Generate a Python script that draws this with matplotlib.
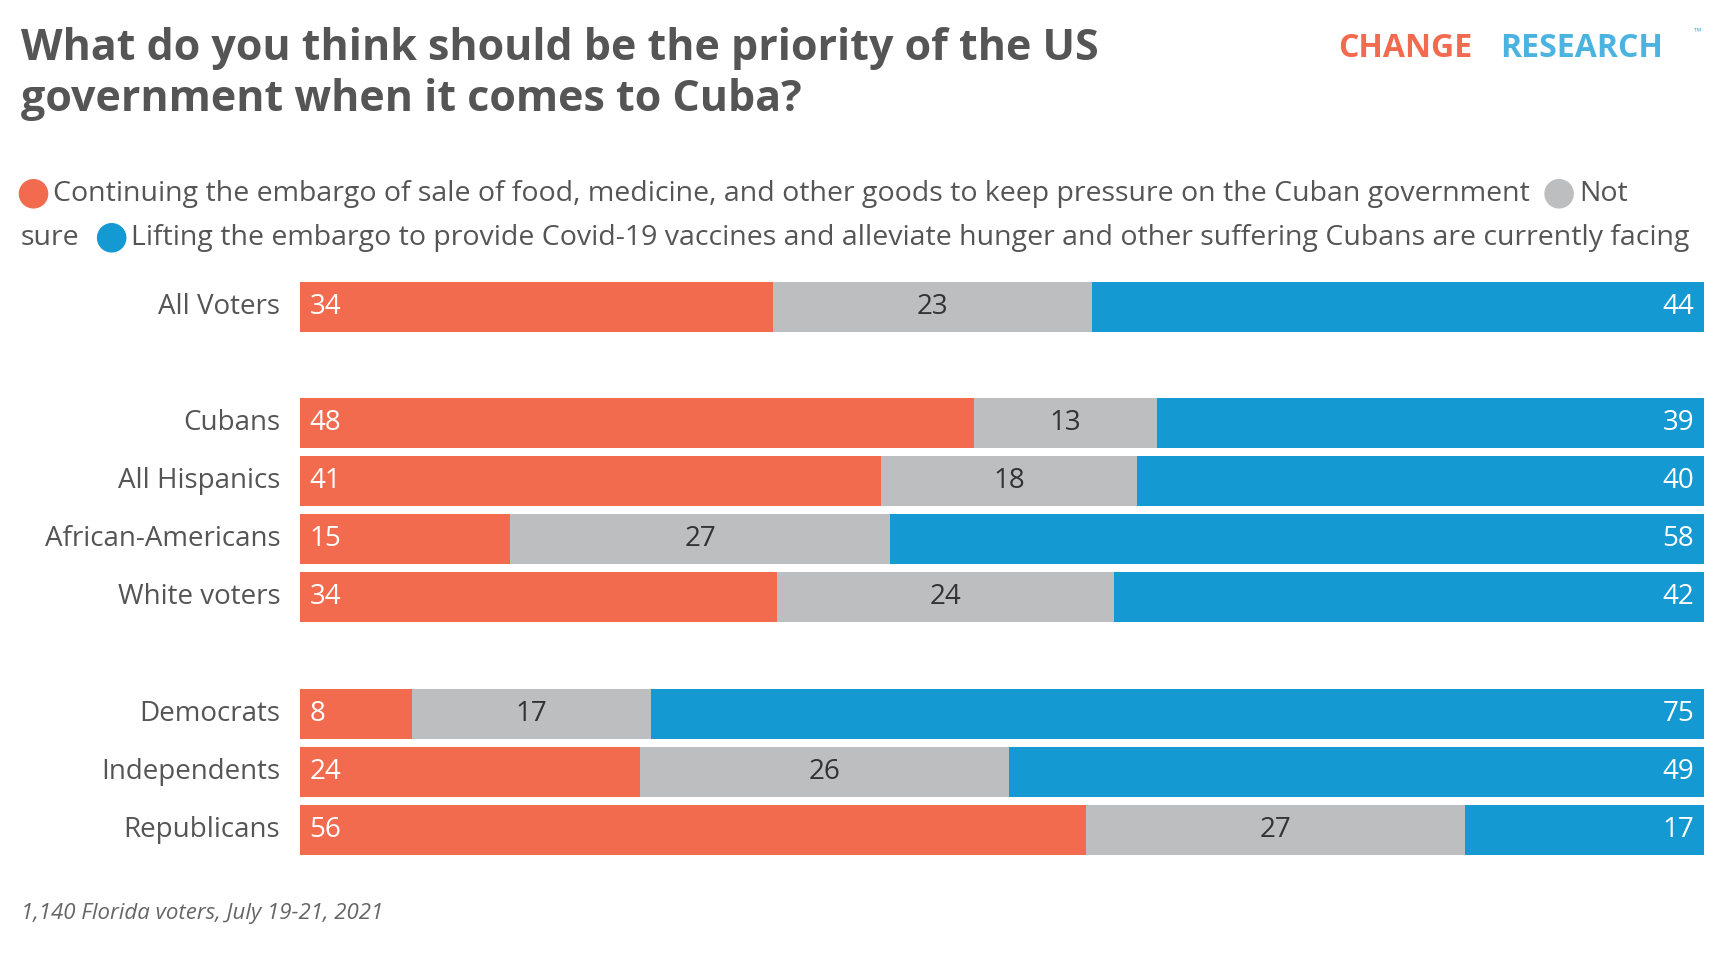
import matplotlib.pyplot as plt
from matplotlib.patches import Ellipse

groups = ["All Voters", "Cubans", "All Hispanics", "African-Americans", "White voters",
          "Democrats", "Independents", "Republicans"]
slots = [0, 2, 3, 4, 5, 7, 8, 9]
continuing = [34, 48, 41, 15, 34, 8, 24, 56]
not_sure = [23, 13, 18, 27, 24, 17, 26, 27]
lifting = [44, 39, 40, 58, 42, 75, 49, 17]

c_orange = '#F26B4F'
c_gray = '#BDBEC0'
c_blue = '#1499D3'
txt = '#555555'

plt.rcParams['font.family'] = ['Open Sans', 'DejaVu Sans']

W, H = 1718, 960
fig = plt.figure(figsize=(W / 100, H / 100), dpi=100)
fig.patch.set_facecolor('white')

ax = fig.add_axes([0.1745, 0.105, 0.8175, 0.606])
ax.set_xlim(0, 1)
ax.set_ylim(9.5, -0.5)
ax.axis('off')

fs = 20
for s, a, b, c in zip(slots, continuing, not_sure, lifting):
    tot = a + b + c
    fa, fb, fc = a / tot, b / tot, c / tot
    ax.barh(s, fa, left=0, height=0.86, color=c_orange)
    ax.barh(s, fb, left=fa, height=0.86, color=c_gray)
    ax.barh(s, fc, left=fa + fb, height=0.86, color=c_blue)
    ax.text(0.007, s, str(a), va='center', ha='left', fontsize=fs, color='white')
    ax.text(fa + fb / 2, s, str(b), va='center', ha='center', fontsize=fs, color='#333333')
    ax.text(0.993, s, str(c), va='center', ha='right', fontsize=fs, color='white')

for s, g in zip(slots, groups):
    ax.text(-0.014, s, g, va='center', ha='right', fontsize=fs, color=txt)

fig.text(0.012, 0.972, "What do you think should be the priority of the US\ngovernment when it comes to Cuba?",
         fontsize=31, fontweight='bold', color=txt, va='top', ha='left', linespacing=1.25)
fig.text(0.779, 0.967, "CHANGE", fontsize=23, fontweight='bold', color=c_orange, va='top')
fig.text(0.873, 0.967, "RESEARCH", fontsize=23, fontweight='bold', color='#4BB3E0', va='top')
fig.text(0.986, 0.972, "™", fontsize=7, color='#4BB3E0', va='top')

y1, y2 = 1 - 176 / 872, 1 - 216 / 872
r = 0.0082
def dot(x, y, col):
    fig.patches.append(Ellipse((x, y), 2 * r, 2 * r * W / H, transform=fig.transFigure, color=col, figure=fig))

lfs = 20.5
dot(0.0195, y1, c_orange)
fig.text(0.031, y1, "Continuing the embargo of sale of food, medicine, and other goods to keep pressure on the Cuban government",
         fontsize=lfs, color=txt, va='center')
dot(0.9075, y1, c_gray)
fig.text(0.919, y1, "Not", fontsize=lfs, color=txt, va='center')
fig.text(0.012, y2, "sure", fontsize=lfs, color=txt, va='center')
dot(0.065, y2, c_blue)
fig.text(0.076, y2, "Lifting the embargo to provide Covid-19 vaccines and alleviate hunger and other suffering Cubans are currently facing",
         fontsize=lfs, color=txt, va='center')

fig.text(0.012, 1 - 830 / 872, "1,140 Florida voters, July 19-21, 2021", fontsize=16, style='italic',
         color='#666666', va='center')

fig.savefig("out.png", dpi=100, facecolor='white')
